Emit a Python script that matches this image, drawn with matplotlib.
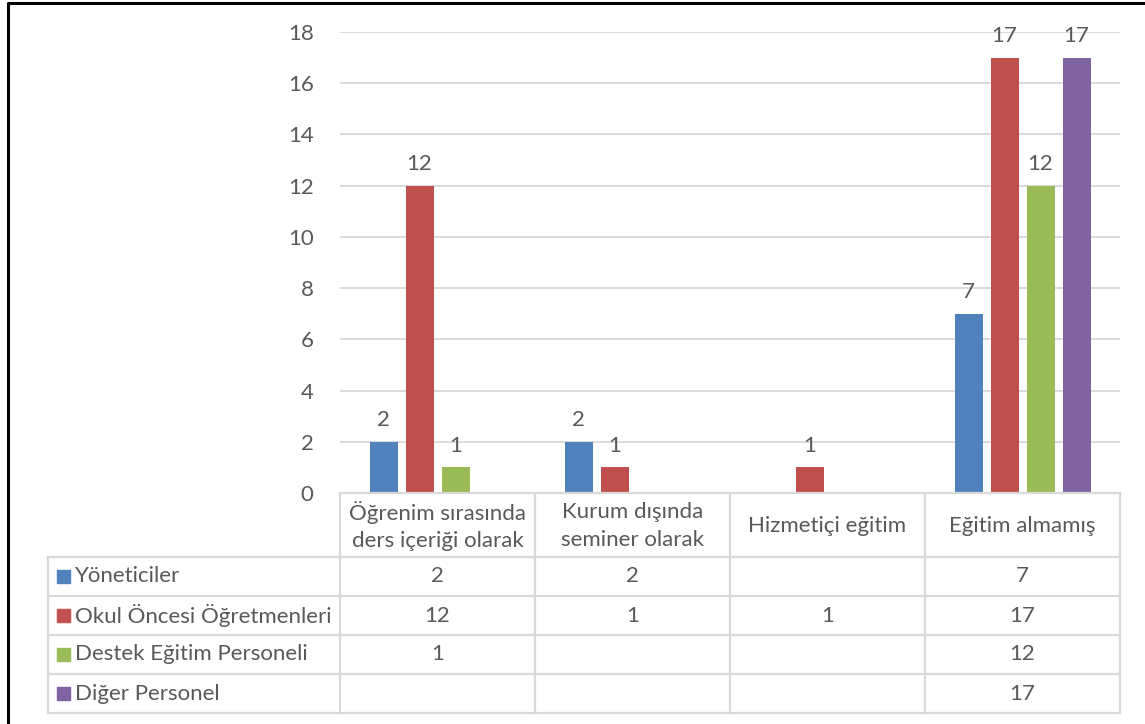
import matplotlib
matplotlib.use('Agg')
import matplotlib.pyplot as plt
import numpy as np

plt.rcParams['font.family'] = ['Lato', 'DejaVu Sans']

# data
categories = ['Öğrenim sırasında\nders içeriği olarak', 'Kurum dışında\nseminer olarak',
              'Hizmetiçi eğitim', 'Eğitim almamış']
series = ['Yöneticiler', 'Okul Öncesi Öğretmenleri', 'Destek Eğitim Personeli', 'Diğer Personel']
yoneticiler = [2, 2, None, 7]
ogretmenler = [12, 1, 1, 17]
destek = [1, None, None, 12]
diger = [None, None, None, 17]
values = [yoneticiler, ogretmenler, destek, diger]
colors = ['#4F81BD', '#C0504D', '#9BBB59', '#8064A2']
yticks = [0, 2, 4, 6, 8, 10, 12, 14, 16, 18]

W, H = 1145, 724
fs = 16
fig = plt.figure(figsize=(W / 100, H / 100), dpi=100)
txt = '#595959'
grid = '#D9D9D9'

# plot area in pixels
px0, px1, py0, py1 = 340, 1120, 32, 493
ax = fig.add_axes([px0 / W, 1 - py1 / H, (px1 - px0) / W, (py1 - py0) / H])

n = len(series)
width = 28 / 195
step = 36 / 195
x = np.arange(len(categories))
for i, (name, vals) in enumerate(zip(series, values)):
    pos = x + (i - (n - 1) / 2) * step
    h = [v if v is not None else 0 for v in vals]
    bars = ax.bar(pos, h, width=width, color=colors[i], zorder=3)
    for b, v in zip(bars, vals):
        if v is not None:
            ax.text(b.get_x() + b.get_width() / 2, v + 0.45, str(v), ha='center', va='bottom',
                    fontsize=fs, color=txt)

ax.set_xlim(-0.5, len(categories) - 0.5)
ax.set_ylim(0, 18)
ax.set_yticks(yticks)
ax.set_yticklabels([str(t) for t in yticks], fontsize=fs, color=txt)
ax.tick_params(axis='y', length=0, pad=19)
ax.set_xticks([])
ax.yaxis.grid(True, color=grid, linewidth=1.3, zorder=0)
for s in ax.spines.values():
    s.set_visible(False)

# data table drawn in pixel coordinates on an overlay axes
tax = fig.add_axes([0, 0, 1, 1])
tax.set_xlim(0, W)
tax.set_ylim(H, 0)
tax.axis('off')

col_edges = [px0 + k * (px1 - px0) / len(categories) for k in range(len(categories) + 1)]
lab_x0 = 48
header_top, header_bot = py1, 557
row_h = 39
row_edges = [header_bot + k * row_h for k in range(n + 1)]
lw = 1.6

# vertical lines
tax.plot([lab_x0, lab_x0], [header_bot, row_edges[-1]], color=grid, lw=lw)
for cx in col_edges:
    tax.plot([cx, cx], [header_top, row_edges[-1]], color=grid, lw=lw)
# horizontal lines
tax.plot([px0, px1], [header_top, header_top], color=grid, lw=lw)
for ry in row_edges:
    tax.plot([lab_x0, px1], [ry, ry], color=grid, lw=lw)

# header labels
for k, cat in enumerate(categories):
    cx = (col_edges[k] + col_edges[k + 1]) / 2
    tax.text(cx, (header_top + header_bot) / 2 + 1, cat, ha='center', va='center',
             fontsize=fs, color=txt, linespacing=1.45)

# rows
for i, (name, vals) in enumerate(zip(series, values)):
    cy = (row_edges[i] + row_edges[i + 1]) / 2
    tax.add_patch(plt.Rectangle((57, cy - 6.5), 13, 13, color=colors[i]))
    tax.text(75, cy, name, ha='left', va='center', fontsize=fs, color=txt)
    for k, v in enumerate(vals):
        if v is not None:
            cx = (col_edges[k] + col_edges[k + 1]) / 2
            tax.text(cx, cy, str(v), ha='center', va='center', fontsize=fs, color=txt)

# outer frame
tax.plot([8, 8, W + 5], [H + 5, 2.5, 2.5], color='black', lw=2.2)

fig.savefig('out.png', dpi=100)
